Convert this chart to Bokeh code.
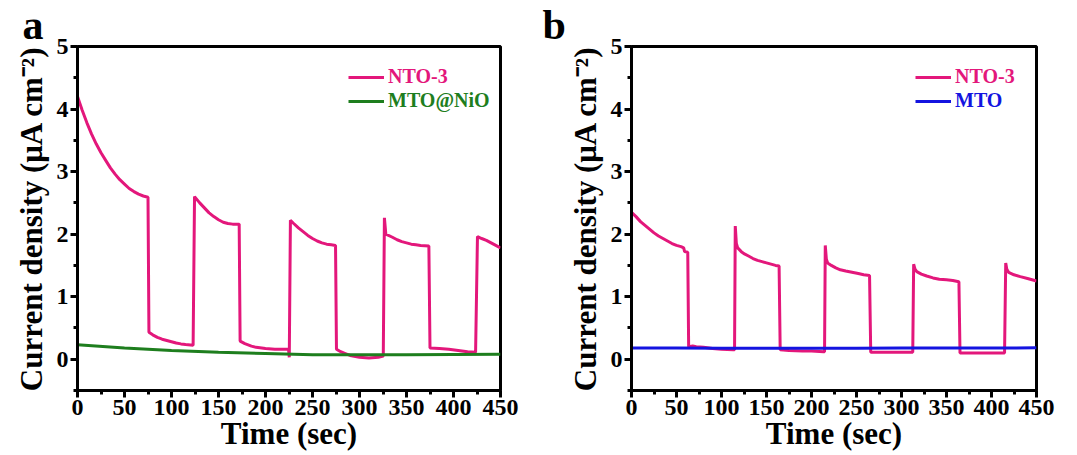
from bokeh.plotting import figure
from bokeh.models import (Range1d, FixedTicker, Legend, LegendItem)
from bokeh.layouts import row
from bokeh.embed import file_html
from bokeh.resources import INLINE

# ---------------- data ----------------
# Panel a : NTO-3
a_nto_t = [0, 5, 10, 15, 20, 25, 30, 35, 40, 45, 50, 55, 60, 65, 70, 75,
           76, 80, 85, 90, 95, 100, 105, 110, 115, 123,
           124.5, 130, 135, 140, 145, 150, 155, 160, 165, 172,
           173, 178, 185, 190, 200, 210, 224.5, 225.3,
           226.5, 230, 235, 240, 245, 250, 255, 260, 265, 270, 274.5,
           275.5, 280, 285, 290, 300, 310, 320, 325.3,
           326.5, 328, 335, 340, 345, 350, 355, 360, 365, 373.8,
           375, 385, 395, 405, 415, 423.5,
           425.5, 430, 435, 440, 445, 450]
a_nto_j = [4.2, 3.98, 3.78, 3.6, 3.44, 3.3, 3.18, 3.06, 2.96, 2.87, 2.8, 2.73, 2.68, 2.64, 2.61, 2.59,
           0.43, 0.39, 0.35, 0.32, 0.3, 0.28, 0.26, 0.245, 0.235, 0.225,
           2.6, 2.5, 2.42, 2.34, 2.28, 2.23, 2.19, 2.17, 2.16, 2.16,
           0.29, 0.25, 0.21, 0.19, 0.17, 0.16, 0.16, 0.03,
           2.22, 2.17, 2.1, 2.04, 1.98, 1.93, 1.89, 1.86, 1.84, 1.83, 1.82,
           0.16, 0.12, 0.09, 0.06, 0.03, 0.02, 0.03, 0.05,
           2.26, 2.0, 1.95, 1.91, 1.88, 1.86, 1.84, 1.83, 1.82, 1.81,
           0.18, 0.17, 0.16, 0.14, 0.12, 0.11,
           1.96, 1.93, 1.9, 1.86, 1.82, 1.78]
# Panel a : MTO@NiO
a_mto_t = [0, 50, 100, 150, 200, 250, 300, 350, 400, 450]
a_mto_j = [0.23, 0.18, 0.14, 0.11, 0.09, 0.07, 0.07, 0.07, 0.075, 0.08]

# Panel b : NTO-3
b_nto_t = [0, 5, 10, 15, 20, 25, 30, 35, 40, 45, 50, 55, 58, 59, 62.5,
           63.5, 68, 72, 80, 90, 100, 113, 114.5,
           115.3, 116.5, 118, 122, 126, 130, 135, 140, 145, 150, 155, 160, 164,
           165.2, 175, 190, 200, 213.5, 214.5,
           215.3, 216.5, 218, 222, 227, 232, 238, 245, 252, 258, 264.5,
           265.8, 290, 312.5,
           313.5, 315, 317, 322, 328, 335, 342, 350, 357, 363.8,
           365, 390, 414.5,
           415.8, 417, 419, 425, 432, 440, 450]
b_nto_j = [2.35, 2.28, 2.2, 2.14, 2.08, 2.02, 1.97, 1.93, 1.89, 1.85, 1.82, 1.8, 1.78, 1.72, 1.71,
           0.2, 0.21, 0.2, 0.19, 0.17, 0.16, 0.15, 0.15,
           2.13, 1.85, 1.78, 1.72, 1.68, 1.65, 1.61, 1.58, 1.56, 1.54, 1.52, 1.5, 1.49,
           0.15, 0.14, 0.13, 0.13, 0.12, 0.12,
           1.82, 1.6, 1.54, 1.5, 1.46, 1.43, 1.41, 1.39, 1.37, 1.35, 1.34,
           0.11, 0.11, 0.11,
           1.52, 1.44, 1.4, 1.36, 1.33, 1.3, 1.28, 1.27, 1.26, 1.24,
           0.1, 0.1, 0.1,
           1.54, 1.44, 1.39, 1.35, 1.32, 1.29, 1.25]
# Panel b : MTO
b_mto_t = [0, 50, 100, 150, 200, 250, 300, 350, 400, 450]
b_mto_j = [0.18, 0.178, 0.175, 0.175, 0.176, 0.177, 0.178, 0.178, 0.18, 0.182]

x_ticks = [0, 50, 100, 150, 200, 250, 300, 350, 400, 450]
x_minor = [25, 75, 125, 175, 225, 275, 325, 375, 425]
y_ticks = [0, 1, 2, 3, 4, 5]
y_minor = [-0.5, 0.5, 1.5, 2.5, 3.5, 4.5]

PINK = "#E3177B"
GREEN = "#1E7E1E"
BLUE = "#1414E0"
FONT = "Liberation Serif"


def make_panel(width, ml, mr, letter, letter_offset, series, legend_x):
    p = figure(width=width, height=453, output_backend="svg", toolbar_location=None,
               x_range=Range1d(0, 450), y_range=Range1d(-0.5, 5),
               min_border_left=ml, min_border_right=mr, min_border_top=46, min_border_bottom=61)
    p.xgrid.visible = False
    p.ygrid.visible = False
    p.outline_line_color = "black"
    p.outline_line_width = 3
    p.outline_line_alpha = 1
    p.xaxis.ticker = FixedTicker(ticks=x_ticks, minor_ticks=x_minor)
    p.yaxis.ticker = FixedTicker(ticks=y_ticks, minor_ticks=y_minor)
    for ax in (p.xaxis[0], p.yaxis[0]):
        ax.axis_line_width = 3
        ax.major_tick_line_width = 3
        ax.minor_tick_line_width = 3
        ax.major_tick_out = 7
        ax.major_tick_in = 0
        ax.minor_tick_out = 4
        ax.minor_tick_in = 0
        ax.major_label_text_font = FONT
        ax.major_label_text_font_style = "bold"
        ax.major_label_text_font_size = "24px"
        ax.major_label_text_color = "black"
        ax.major_label_standoff = 2
        ax.axis_label_text_font = FONT
        ax.axis_label_text_font_style = "bold"
        ax.axis_label_text_color = "black"
    p.xaxis.axis_label = "Time (sec)"
    p.xaxis.axis_label_text_font_size = "31px"
    p.xaxis.axis_label_standoff = -2
    p.yaxis.axis_label = "Current density (μA cm⁻²)"
    p.yaxis.axis_label_text_font_size = "31px"
    p.yaxis.axis_label_standoff = 5

    p.title.text = letter
    p.title.text_font = FONT
    p.title.text_font_style = "bold"
    p.title.text_font_size = "42px"
    p.title.text_color = "black"
    p.title.align = "left"
    p.title.offset = letter_offset
    p.title.standoff = -3

    items = []
    for (t, j, color, name) in series:
        r = p.line(t, j, line_color=color, line_width=3)
        items.append((r, color, name))

    ys = [302, 278]
    for (r, color, name), y in zip(items, ys):
        lg = Legend(items=[LegendItem(label=name, renderers=[r])], location=(legend_x, y),
                    border_line_color=None, background_fill_alpha=0, padding=0, margin=0,
                    spacing=0, glyph_width=36, glyph_height=20, label_height=20,
                    label_standoff=4, label_text_font=FONT, label_text_font_style="bold",
                    label_text_font_size="20px", label_text_color=color)
        p.add_layout(lg)
    return p


pa = make_panel(535, 77, 35, "a", -55,
                [(a_nto_t, a_nto_j, PINK, "NTO-3"), (a_mto_t, a_mto_j, GREEN, "MTO@NiO")], 271)
pb = make_panel(540, 96, 39, "b", -89,
                [(b_nto_t, b_nto_j, PINK, "NTO-3"), (b_mto_t, b_mto_j, BLUE, "MTO")], 284)

layout = row(pa, pb)
open("out.html", "w").write(file_html(layout, INLINE))
